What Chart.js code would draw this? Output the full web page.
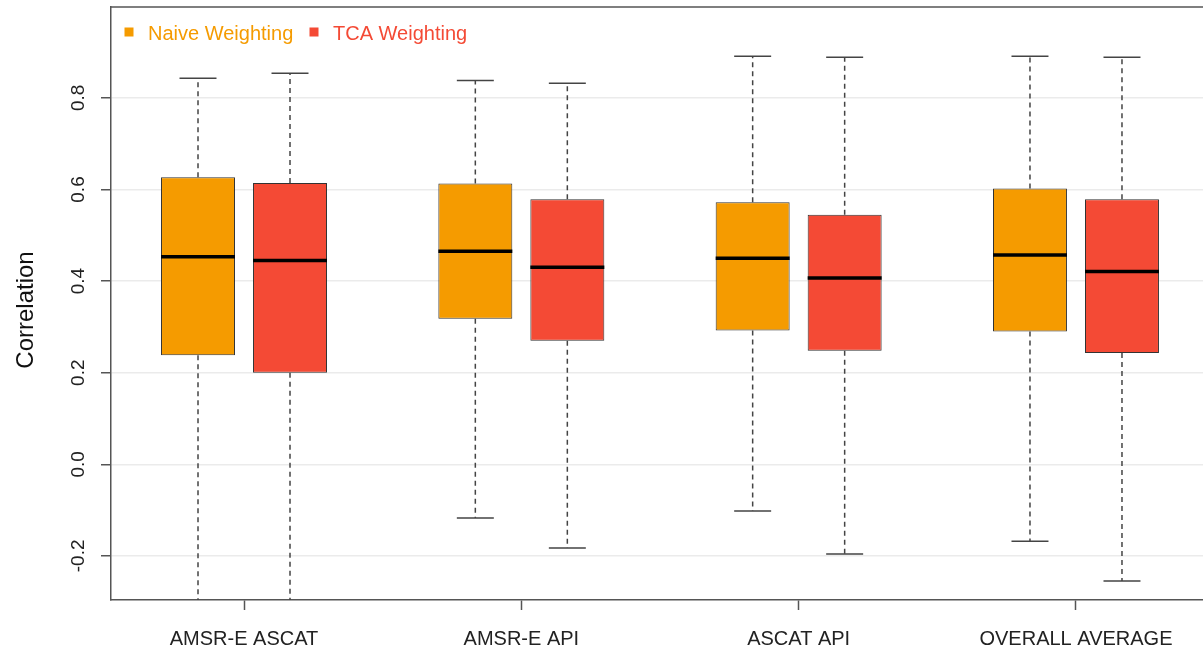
<!DOCTYPE html>
<html>
<head>
<meta charset="utf-8">
<script src="https://cdn.jsdelivr.net/npm/chart.js@4/dist/chart.umd.min.js"></script>
<style>
  html, body { margin: 0; padding: 0; background: #ffffff; }
  #wrap { width: 1203px; height: 652px; }
</style>
</head>
<body>
<div id="wrap"><canvas id="c" width="1203" height="652"></canvas></div>
<script>
// Categories and box statistics (lower whisker, Q1, median, Q3, upper whisker)
const categories = ['AMSR-E ASCAT', 'AMSR-E API', 'ASCAT API', 'OVERALL AVERAGE'];
const seriesNames = ['Naive Weighting', 'TCA Weighting'];

const naiveLow    = [-0.33, -0.117, -0.102, -0.168];
const naiveQ1     = [0.238, 0.318, 0.292, 0.290];
const naiveMedian = [0.453, 0.465, 0.450, 0.457];
const naiveQ3     = [0.627, 0.613, 0.572, 0.602];
const naiveHigh   = [0.843, 0.838, 0.891, 0.891];

const tcaLow    = [-0.33, -0.183, -0.196, -0.255];
const tcaQ1     = [0.200, 0.270, 0.248, 0.243];
const tcaMedian = [0.445, 0.430, 0.407, 0.421];
const tcaQ3     = [0.614, 0.579, 0.545, 0.579];
const tcaHigh   = [0.854, 0.832, 0.889, 0.889];

const yTicks = [-0.2, 0.0, 0.2, 0.4, 0.6, 0.8];

const ORANGE = '#F59B00';
const RED = '#F44A35';
const FONT = '"Liberation Sans", Arial, Helvetica, sans-serif';

const stats = [
  { low: naiveLow, q1: naiveQ1, med: naiveMedian, q3: naiveQ3, high: naiveHigh, color: ORANGE },
  { low: tcaLow, q1: tcaQ1, med: tcaMedian, q3: tcaQ3, high: tcaHigh, color: RED }
];

// Boxes are floating bars spanning Q1..Q3
const datasets = stats.map((s, k) => ({
  label: seriesNames[k],
  data: categories.map((c, i) => ({ x: i + 1, y: [s.q1[i], s.q3[i]] })),
  backgroundColor: s.color,
  borderColor: '#333333',
  borderWidth: 1,
  borderSkipped: false,
  categoryPercentage: 0.6635,
  barPercentage: 0.804
}));

// Whiskers, medians, frame top, rotated y labels, axis title and legend
const boxExtras = {
  id: 'boxExtras',
  afterDatasetsDraw(chart) {
    const ctx = chart.ctx;
    const y = chart.scales.y;
    const area = chart.chartArea;

    stats.forEach((s, k) => {
      const meta = chart.getDatasetMeta(k);
      meta.data.forEach((el, i) => {
        const cx = el.x;
        const half = el.width / 2;
        const capHalf = half / 2;
        const pQ1 = y.getPixelForValue(s.q1[i]);
        const pQ3 = y.getPixelForValue(s.q3[i]);
        const pLow = y.getPixelForValue(s.low[i]);
        const pHigh = y.getPixelForValue(s.high[i]);

        ctx.save();
        ctx.beginPath();
        ctx.rect(area.left, area.top, area.right - area.left, area.bottom - area.top);
        ctx.clip();
        ctx.strokeStyle = '#444444';
        ctx.lineWidth = 1.5;
        ctx.setLineDash([5, 4]);
        ctx.beginPath();
        ctx.moveTo(cx, pQ3); ctx.lineTo(cx, pHigh);
        ctx.moveTo(cx, pQ1); ctx.lineTo(cx, pLow);
        ctx.stroke();
        ctx.setLineDash([]);
        ctx.beginPath();
        ctx.moveTo(cx - capHalf, pHigh); ctx.lineTo(cx + capHalf, pHigh);
        ctx.moveTo(cx - capHalf, pLow); ctx.lineTo(cx + capHalf, pLow);
        ctx.stroke();
        ctx.restore();

        // median bar
        const pMed = y.getPixelForValue(s.med[i]);
        ctx.save();
        ctx.strokeStyle = '#000000';
        ctx.lineWidth = 3.5;
        ctx.beginPath();
        ctx.moveTo(cx - half, pMed); ctx.lineTo(cx + half, pMed);
        ctx.stroke();
        ctx.restore();
      });
    });

    // top edge of the frame
    ctx.save();
    ctx.strokeStyle = '#555555';
    ctx.lineWidth = 1.5;
    ctx.beginPath();
    ctx.moveTo(area.left - 0.75, area.top);
    ctx.lineTo(area.right, area.top);
    ctx.stroke();
    ctx.restore();

    // rotated y tick labels
    ctx.save();
    ctx.fillStyle = '#222222';
    ctx.font = '19px ' + FONT;
    ctx.textAlign = 'center';
    ctx.textBaseline = 'alphabetic';
    y.ticks.forEach(t => {
      const py = y.getPixelForValue(t.value);
      ctx.save();
      ctx.translate(84, py);
      ctx.rotate(-Math.PI / 2);
      ctx.fillText(t.value.toFixed(1), 0, 0);
      ctx.restore();
    });
    ctx.restore();

    // y axis title
    ctx.save();
    ctx.fillStyle = '#111111';
    ctx.font = '24px ' + FONT;
    ctx.textAlign = 'center';
    ctx.textBaseline = 'alphabetic';
    ctx.translate(33, 310);
    ctx.rotate(-Math.PI / 2);
    ctx.fillText('Correlation', 0, 0);
    ctx.restore();

    // legend inside the plot, top left
    const legendX = [124.5, 309.5];
    const textX = [148, 333];
    ctx.save();
    ctx.font = '20px ' + FONT;
    ctx.textBaseline = 'alphabetic';
    ctx.textAlign = 'left';
    stats.forEach((s, k) => {
      ctx.fillStyle = s.color;
      ctx.fillRect(legendX[k], 27.5, 9, 9);
      ctx.fillText(seriesNames[k], textX[k], 39.5);
    });
    ctx.restore();
  }
};

new Chart(document.getElementById('c'), {
  type: 'bar',
  data: { datasets },
  options: {
    responsive: false,
    animation: false,
    devicePixelRatio: 1,
    layout: { padding: { top: 7, right: 0, left: 0, bottom: 0 } },
    plugins: {
      legend: { display: false },
      tooltip: { enabled: false }
    },
    scales: {
      x: {
        type: 'linear',
        offset: false,
        min: 0.5204,
        max: 4.458,
        afterBuildTicks: (scale) => { scale.ticks = categories.map((c, i) => ({ value: i + 1 })); },
        afterFit: (scale) => { scale.height = 52; },
        ticks: {
          autoSkip: false,
          maxRotation: 0,
          minRotation: 0,
          includeBounds: false,
          padding: 17,
          color: '#222222',
          font: { family: FONT, size: 20 },
          callback: (v, i) => categories[i]
        },
        grid: {
          offset: false,
          drawOnChartArea: false,
          drawTicks: true,
          tickLength: 10,
          tickColor: '#555555',
          tickWidth: 1.5
        },
        border: { display: true, color: '#555555', width: 1.5 }
      },
      y: {
        min: -0.2963,
        max: 0.9985,
        afterBuildTicks: (scale) => { scale.ticks = yTicks.map(v => ({ value: v })); },
        afterFit: (scale) => { scale.width = 111; },
        ticks: { display: false, includeBounds: false },
        grid: {
          color: '#ebebeb',
          lineWidth: 1.5,
          drawTicks: true,
          tickLength: 10,
          tickColor: '#555555',
          tickWidth: 1.5
        },
        border: { display: true, color: '#555555', width: 1.5 }
      }
    }
  },
  plugins: [boxExtras]
});
</script>
</body>
</html>
